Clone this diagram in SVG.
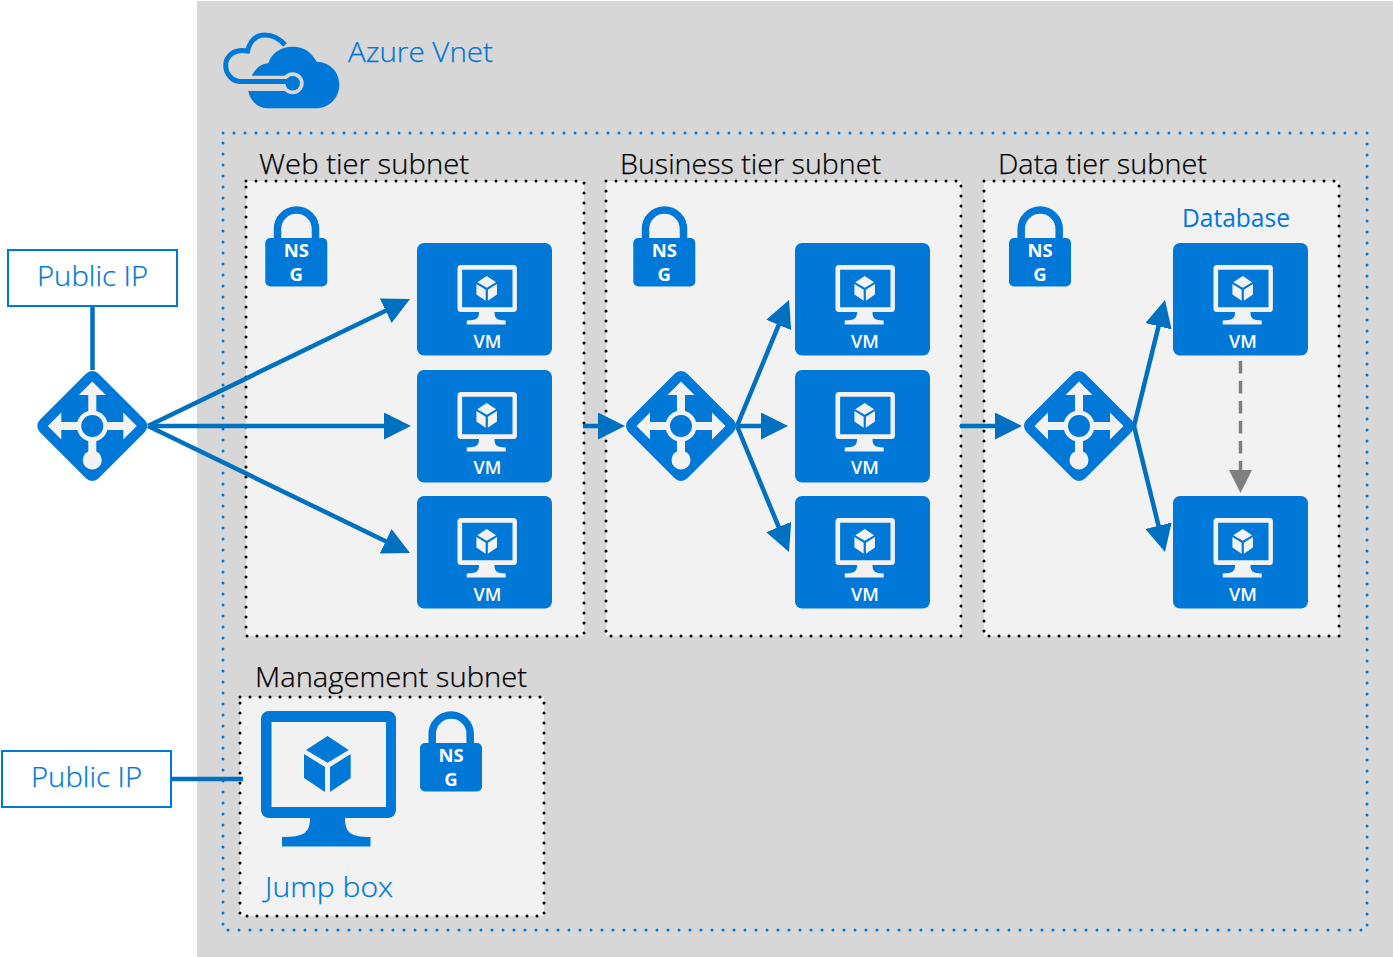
<svg xmlns="http://www.w3.org/2000/svg" xmlns:xlink="http://www.w3.org/1999/xlink" width="1393" height="957" viewBox="0 0 1393 957">
<style>
text{font-family:"Open Sans","Noto Sans","Liberation Sans",sans-serif}
.lbl{font-size:28px;font-weight:300;fill:#000;stroke:#000;stroke-width:.25}
.blue{fill:#0078d7}
.thin{stroke:#0078d7;stroke-width:.25}
.vmt{font-size:18px;font-weight:600;fill:#fff;text-anchor:middle}
.nsgt{font-size:18.5px;font-weight:700;fill:#fff;text-anchor:middle}
.sub{fill:#f2f2f2;stroke:#000;stroke-width:3;stroke-linecap:round;stroke-dasharray:0 10}
.pip{fill:#fff;stroke:#0078d7;stroke-width:2}
.c{fill:none;stroke:#0070c0;stroke-width:4.5}
</style>
<defs>
<marker id="ah" markerUnits="userSpaceOnUse" markerWidth="28" markerHeight="28" refX="12" refY="13.5" orient="auto"><path d="M0,0L27,13.5L0,27Z" fill="#0070c0"/></marker>
<marker id="ag" markerUnits="userSpaceOnUse" markerWidth="24" markerHeight="24" refX="10" refY="11.5" orient="auto"><path d="M0,0L23,11.5L0,23Z" fill="#7f7f7f"/></marker>
<symbol id="mon" overflow="visible">
<path fill-rule="evenodd" d="M8,0H127a8,8 0 0 1 8,8V99a8,8 0 0 1-8,8H84C84,122 90,126 109.500,126V135.500H21V126C43,126 49,122 49,107H8a8,8 0 0 1-8-8V8a8,8 0 0 1 8-8ZM10.500,11V96H125V11Z"/>
<path d="M66.500,25L87.700,39L66.500,51.700L45,39ZM43,43L64,56V81L43,67ZM89.700,43L69,56V81L89.700,67Z"/>
</symbol>
<g id="vm">
<rect width="135" height="112.500" rx="7" fill="#0078d7"/>
<use xlink:href="#mon" href="#mon" transform="translate(40.500,22) scale(.44)" fill="#f2f2f2"/>
</g>
<g id="lb">
<rect x="-41.500" y="-41.500" width="83" height="83" rx="9" transform="rotate(45)" fill="#0078d7"/>
<path fill="#f2f2f2" d="M0,-44.500L13.500,-31H4V-14H-4V-31H-13.500ZM-44.500,0L-31,-13.500V-4H-14V4H-31V13.500ZM44.500,0L31,-13.500V-4H14V4H31V13.500ZM-4,14H4V26H-4Z"/>
<circle r="15.500" fill="#f2f2f2"/><circle r="11" fill="#0078d7"/><circle cy="34" r="9.500" fill="#f2f2f2"/>
</g>
<g id="nsg">
<path d="M12.200,33V23a19,19 0 0 1 38,0V33" fill="none" stroke="#0078d7" stroke-width="7.500"/>
<rect y="32" width="62" height="48.500" rx="5" fill="#0078d7"/>
<text class="nsgt" x="31" y="51">NS</text><text class="nsgt" x="31" y="75">G</text>
</g>
</defs>
<rect width="1393" height="957" fill="#fff"/>
<rect x="197" y="1" width="1196" height="956" fill="#d7d7d7"/>
<g id="cloud">
<path d="M285,45C279,38 272,35 265,35C256,35 250,41 247.500,51C234,48.500 225.700,56 225.700,65.500C225.700,74 232,81 240,81.500H287" fill="none" stroke="#0078d7" stroke-width="5"/>
<path class="blue" d="M248.300,91C250,101 258,108.300 268,108.300H316C330,108.300 339.300,97 339.300,85C339.300,72 330,62 316.700,61.700C311,52 304,46.700 293,46.700C280,46.700 271,54 268.300,63.300C261,63.500 255,69 251.700,76H287L292,91Z"/>
<path d="M251,77.800H290M248,87.500H290" fill="none" stroke="#d7d7d7" stroke-width="4"/>
<path d="M249,81.500H287" fill="none" stroke="#0078d7" stroke-width="5"/>
<circle cx="292.700" cy="83.300" r="11" fill="#d7d7d7"/>
<path d="M280,81.500H290" fill="none" stroke="#0078d7" stroke-width="5"/>
<circle cx="292.700" cy="83.300" r="7.300" fill="#0078d7"/>
<text class="blue thin" x="348" y="62" font-size="28" font-weight="300" textLength="145" lengthAdjust="spacingAndGlyphs">Azure Vnet</text>
</g>
<rect id="vnet" x="223" y="133" width="1144" height="797" fill="none" stroke="#0078d7" stroke-width="3" stroke-linecap="round" stroke-dasharray="0 11"/>
<g id="web-subnet"><rect class="sub" x="246" y="181" width="338" height="455"/><text class="lbl" x="259" y="174" textLength="210" lengthAdjust="spacingAndGlyphs">Web tier subnet</text></g>
<g id="business-subnet"><rect class="sub" x="606" y="181" width="355" height="455"/><text class="lbl" x="620" y="174" textLength="261" lengthAdjust="spacingAndGlyphs">Business tier subnet</text></g>
<g id="data-subnet"><rect class="sub" x="984" y="181" width="355" height="455"/><text class="lbl" x="998" y="174" textLength="209" lengthAdjust="spacingAndGlyphs">Data tier subnet</text></g>
<g id="mgmt-subnet"><rect class="sub" x="240" y="697" width="304" height="219"/><text class="lbl" x="255" y="687" textLength="272" lengthAdjust="spacingAndGlyphs">Management subnet</text></g>
<g id="connectors">
<path class="c" d="M92.500,307V370"/>
<path class="c" d="M170,779H243"/>
<path class="c" d="M148,426L396.500,305.500" marker-end="url(#ah)"/>
<path class="c" d="M148,426H396" marker-end="url(#ah)"/>
<path class="c" d="M148,426L396.500,546.500" marker-end="url(#ah)"/>
<path class="c" d="M583,426H610" marker-end="url(#ah)"/>
<path class="c" d="M737,426L783.300,313.900" marker-end="url(#ah)"/>
<path class="c" d="M737,426H773" marker-end="url(#ah)"/>
<path class="c" d="M737,426L783.300,538.100" marker-end="url(#ah)"/>
<path class="c" d="M960,426H1007" marker-end="url(#ah)"/>
<path class="c" d="M1134,426L1161.400,314.600" marker-end="url(#ah)"/>
<path class="c" d="M1134,426L1161.400,537.400" marker-end="url(#ah)"/>
<path d="M1240.500,361V480" fill="none" stroke="#7f7f7f" stroke-width="3.500" stroke-dasharray="12.500 7.500" marker-end="url(#ag)"/>
</g>
<g id="public-ip-1"><rect class="pip" x="8" y="250" width="169" height="56"/><text class="blue thin" x="37" y="286" font-size="28" font-weight="300" textLength="111" lengthAdjust="spacingAndGlyphs">Public IP</text></g>
<g id="public-ip-2"><rect class="pip" x="2" y="751" width="169" height="56"/><text class="blue thin" x="31" y="787" font-size="28" font-weight="300" textLength="111" lengthAdjust="spacingAndGlyphs">Public IP</text></g>
<g id="lb-1"><use href="#lb" transform="translate(92.300,426)"/></g>
<g id="lb-2"><use href="#lb" transform="translate(681,426)"/></g>
<g id="lb-3"><use href="#lb" transform="translate(1079,426)"/></g>
<g id="nsg-web"><use href="#nsg" transform="translate(265.300,206)"/></g>
<g id="nsg-business"><use href="#nsg" transform="translate(633.300,206)"/></g>
<g id="nsg-data"><use href="#nsg" transform="translate(1009,206)"/></g>
<g id="nsg-mgmt"><use href="#nsg" transform="translate(420,711)"/></g>
<g id="vm-1"><use href="#vm" transform="translate(417,243)"/><text class="vmt" x="487.500" y="348">VM</text></g>
<g id="vm-2"><use href="#vm" transform="translate(417,370)"/><text class="vmt" x="487.500" y="474">VM</text></g>
<g id="vm-3"><use href="#vm" transform="translate(417,496)"/><text class="vmt" x="487.500" y="601">VM</text></g>
<g id="vm-4"><use href="#vm" transform="translate(795,243)"/><text class="vmt" x="865" y="348">VM</text></g>
<g id="vm-5"><use href="#vm" transform="translate(795,370)"/><text class="vmt" x="865" y="474">VM</text></g>
<g id="vm-6"><use href="#vm" transform="translate(795,496)"/><text class="vmt" x="865" y="601">VM</text></g>
<g id="vm-7"><use href="#vm" transform="translate(1173,243)"/><text class="vmt" x="1243" y="348">VM</text></g>
<g id="vm-8"><use href="#vm" transform="translate(1173,496)"/><text class="vmt" x="1243" y="601">VM</text></g>
<text class="blue" x="1182" y="227" font-size="25" font-weight="400" textLength="108" lengthAdjust="spacingAndGlyphs">Database</text>
<g id="jump-box"><use href="#mon" transform="translate(261,711)" fill="#0078d7"/><text class="blue thin" x="265" y="897" font-size="28" font-weight="300" textLength="128" lengthAdjust="spacingAndGlyphs">Jump box</text></g>
</svg>
